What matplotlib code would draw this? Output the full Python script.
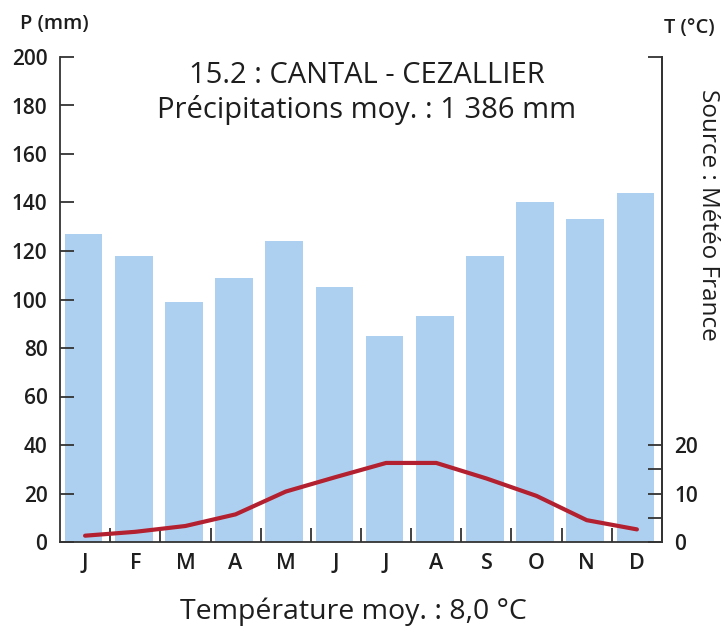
from matplotlib import pyplot as plt
import numpy as np

months = ["J", "F", "M", "A", "M", "J", "J", "A", "S", "O", "N", "D"]
precip = [127, 118, 99, 109, 124, 105, 85, 93, 118, 140, 133, 144]
temp = [1.3, 2.1, 3.3, 5.7, 10.4, 13.4, 16.3, 16.3, 13.1, 9.5, 4.5, 2.6]

title = "15.2 : CANTAL - CEZALLIER\nPrécipitations moy. : 1 386 mm"
footer = "Température moy. : 8,0 °C"
source = "Source : Météo France"

plt.rcParams["font.family"] = ["Open Sans", "DejaVu Sans"]
text_color = "#1e1e1e"

fig = plt.figure(figsize=(7.22, 6.32), dpi=100)
ax = fig.add_axes([60 / 722, 1 - 542 / 632, 602 / 722, 485 / 632])

x = np.arange(len(months))
ax.bar(x - 0.03, precip, width=0.75, color="#AED0F0", zorder=1)
ax.set_xlim(-0.5, 11.5)
ax.set_ylim(0, 200)

# month labels at centres, tick marks at month boundaries
ax.set_xticks(x)
ax.set_xticklabels(months, fontsize=15.5, fontweight="semibold", color=text_color)
ax.tick_params(axis="x", which="major", length=0, pad=8)
ax.set_xticks(np.arange(0.5, 11.5, 1), minor=True)
ax.tick_params(axis="x", which="minor", direction="in", length=10, width=1.3, color="#333333")

ax.set_yticks(np.arange(0, 201, 20))
ax.tick_params(axis="y", direction="in", length=10, width=1.3, color="#333333",
               labelsize=15, labelcolor=text_color, pad=9)
for lab in ax.get_yticklabels():
    lab.set_fontweight("semibold")

for side in ["left", "bottom", "right"]:
    ax.spines[side].set_linewidth(1.3)
    ax.spines[side].set_color("#333333")
ax.spines["top"].set_visible(False)

# temperature axis: T = P / 2
ax2 = ax.twinx()
ax2.set_ylim(0, 100)
ax2.plot(x, temp, color="#B3202F", linewidth=3, zorder=3, solid_capstyle="round")
ax2.set_yticks([0, 5, 10, 15, 20, 100])
ax2.set_yticklabels(["0", "", "10", "", "20", ""], fontweight="semibold")
ax2.tick_params(axis="y", direction="in", length=10, width=1.3, color="#333333",
                labelsize=15, labelcolor=text_color, pad=9)
ax.tick_params(axis="y", right=False)
ax2.spines["top"].set_visible(False)
ax2.spines["right"].set_linewidth(1.3)
ax2.spines["right"].set_color("#333333")
ax2.spines["left"].set_visible(False)
ax2.spines["bottom"].set_visible(False)

fig.text(54 / 722, 1 - 24 / 632, "P (mm)", fontsize=14.5, fontweight="semibold",
         color=text_color, ha="center", va="center")
fig.text(689 / 722, 1 - 28 / 632, "T (°C)", fontsize=14.5, fontweight="semibold",
         color=text_color, ha="center", va="center")
fig.text(367 / 722, 1 - 93 / 632, title, fontsize=21, color=text_color,
         ha="center", va="center", linespacing=1.2)
fig.text(353 / 722, 1 - 612 / 632, footer, fontsize=20.5, color=text_color,
         ha="center", va="center")
fig.text(708 / 722, 1 - 215 / 632, source, fontsize=17.5, color=text_color,
         ha="center", va="center", rotation=-90)

plt.savefig("out.png", dpi=100)
plt.close()
